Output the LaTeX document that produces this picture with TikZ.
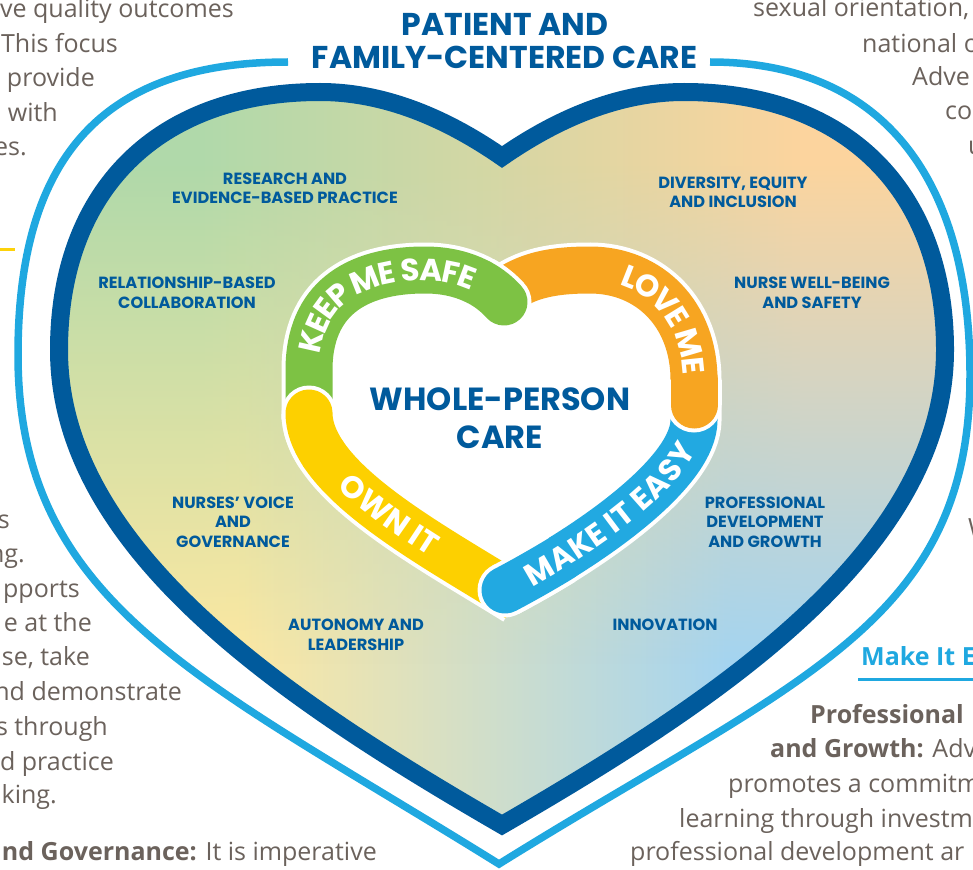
\documentclass[tikz,border=0pt]{standalone}
\usepackage{fontspec}
\setmainfont{Open Sans}
\newfontfamily\pop{Poppins}
\usetikzlibrary{fadings,decorations.text}
\definecolor{dkblue}{HTML}{005A9C}
\definecolor{ltblue}{HTML}{1FA8E0}
\definecolor{bgreen}{HTML}{7DC244}
\definecolor{borange}{HTML}{F7A521}
\definecolor{byellow}{HTML}{FDD000}
\definecolor{bblue}{HTML}{22A9E1}
\definecolor{greytxt}{HTML}{6B625C}
\definecolor{hgreen}{HTML}{B0D9AA}
\definecolor{hpeach}{HTML}{FCD49E}
\definecolor{hyellow}{HTML}{FDE8A2}
\definecolor{hblue}{HTML}{A4D4F1}
\definecolor{uline}{HTML}{FDD20A}
\pgfdeclarehorizontalshading{topshade}{100bp}{color(0bp)=(hgreen); color(33bp)=(hgreen); color(67bp)=(hpeach); color(100bp)=(hpeach)}
\pgfdeclarehorizontalshading{botshade}{100bp}{color(0bp)=(hyellow); color(35bp)=(hyellow); color(63bp)=(hblue); color(100bp)=(hblue)}
\begin{tikzfadingfrompicture}[name=fadedown]
  \fill[transparent!100] (0bp,0bp) rectangle (100bp,-30bp);
  \shade[top color=transparent!100, bottom color=transparent!0] (0bp,-30bp) rectangle (100bp,-64bp);
  \fill[transparent!0] (0bp,-64bp) rectangle (100bp,-100bp);
\end{tikzfadingfrompicture}
\begin{document}
\begin{tikzpicture}[x=1pt,y=1pt,
  body/.style={font=\fontsize{25}{34.5}\selectfont, text=greytxt, inner sep=0pt},
  lbl/.style={font=\pop\bfseries\fontsize{16.2}{19.5}\selectfont, text=dkblue, align=center, inner sep=0pt},
  ttl/.style={font=\pop\bfseries\fontsize{31.5}{33}\selectfont, text=dkblue, inner sep=0pt},
  ctr/.style={font=\pop\bfseries\fontsize{32}{38.5}\selectfont, text=dkblue, align=center, inner sep=0pt},
  bandw/.style={white, line width=55, line cap=butt},
  bandc/.style={line width=47, line cap=butt},
  endw/.style={white, line width=55, line cap=butt},
  endc/.style={line width=47, line cap=round},
  bandtext/.style={decorate, decoration={text along path, text align=center, text color=white, raise=-10.6pt, text={|\pop\bfseries\fontsize{31}{31}\selectfont|#1}}}
]
\useasboundingbox (0,0) rectangle (973,-869);
\clip (0,0) rectangle (973,-869);
\fill[white] (0,0) rectangle (973,-869);

% surrounding body text
\node[body, anchor=base east] (b1) at (234,-18) {ve quality outcomes};
\node[body, anchor=base east] (b2) at (118,-53) {This focus};
\node[body, anchor=base east] (b3) at (95,-87) {provide};
\node[body, anchor=base east] (b4) at (58,-122) {e with};
\node[body, anchor=base east] (b5) at (27,-156) {es.};
\draw[uline, line width=2.5] (0,-249.5) coordinate (u0) -- (15,-249.5) coordinate (u1);

\node[body, anchor=base east] (m1) at (10,-528) {s};
\node[body, anchor=base east] (m2) at (25,-562) {ng.};
\node[body, anchor=base east] (m3) at (80,-597) {pports};
\node[body, anchor=base east] (m4) at (92,-631) {e at the};
\node[body, anchor=base east] (m5) at (90,-665) {se, take};
\node[body, anchor=base east] (m6) at (182,-700) {nd demonstrate};
\node[body, anchor=base east] (m7) at (108,-735) {s through};
\node[body, anchor=base east] (m8) at (114,-770) {d practice};
\node[body, anchor=base east] (m9) at (57,-803) {king.};
\node[body, anchor=base east] (m10) at (377,-860) {\bfseries nd Governance:\mdseries{} It is imperative};

\node[body, anchor=base west] (r1) at (753,-17) {sexual orientation,};
\node[body, anchor=base west] (r2) at (862,-53) {national o};
\node[body, anchor=base west] (r3) at (912,-86) {Adve};
\node[body, anchor=base west] (r4) at (945,-120) {co};
\node[body, anchor=base west] (r5) at (968,-155) {u};
\node[body, anchor=base west] (r6) at (968,-536) {W};

\node[body, anchor=base west, text=ltblue, font=\bfseries\fontsize{25}{34.5}\selectfont] (mk) at (861,-665) {Make It E};
\draw[ltblue, line width=2.5] (858,-679.5) coordinate (v0) -- (973,-679.5) coordinate (v1);
\node[body, anchor=base west] (p1) at (810,-723) {\bfseries Professional};
\node[body, anchor=base west] (p2) at (770,-757) {\bfseries and Growth:\mdseries{} Adv};
\node[body, anchor=base west] (p3) at (728,-792) {promotes a commitm};
\node[body, anchor=base west] (p4) at (679,-827) {learning through investm};
\node[body, anchor=base west] (p5) at (630,-860) {professional development ar};

% light blue outer heart
\draw[ltblue, line width=7.5, line join=miter] (288,-62) .. controls (100,-62) and (18,-160) .. (18,-355) .. controls (18,-605) and (202,-679) .. (499,-864) .. controls (796,-679) and (970,-625) .. (970,-375) .. controls (970,-175) and (880,-62) .. (710,-62);

% dark heart with gradient
\shade[shading=topshade] (502,-157) .. controls (453,-123) and (390,-92) .. (320,-92) .. controls (158,-92) and (59,-190) .. (59,-350) .. controls (59,-550) and (286,-700) .. (502,-825) .. controls (718,-700) and (945,-550) .. (945,-350) .. controls (945,-190) and (846,-92) .. (684,-92) .. controls (614,-92) and (551,-123) .. (502,-157) -- cycle;
\shade[shading=botshade, path fading=fadedown] (502,-157) .. controls (453,-123) and (390,-92) .. (320,-92) .. controls (158,-92) and (59,-190) .. (59,-350) .. controls (59,-550) and (286,-700) .. (502,-825) .. controls (718,-700) and (945,-550) .. (945,-350) .. controls (945,-190) and (846,-92) .. (684,-92) .. controls (614,-92) and (551,-123) .. (502,-157) -- cycle;
\draw[dkblue, line width=18, line join=miter] (502,-157) .. controls (453,-123) and (390,-92) .. (320,-92) .. controls (158,-92) and (59,-190) .. (59,-350) .. controls (59,-550) and (286,-700) .. (502,-825) .. controls (718,-700) and (945,-550) .. (945,-350) .. controls (945,-190) and (846,-92) .. (684,-92) .. controls (614,-92) and (551,-123) .. (502,-157) -- cycle;

% labels
\node[lbl] (l1) at (285,-188.5) {RESEARCH AND\\EVIDENCE-BASED PRACTICE};
\node[lbl] (l2) at (187,-293) {RELATIONSHIP-BASED\\COLLABORATION};
\node[lbl] (l3) at (733,-192.5) {DIVERSITY, EQUITY\\AND INCLUSION};
\node[lbl] (l4) at (812,-293) {NURSE WELL-BEING\\AND SAFETY};
\node[lbl] (l5) at (233,-522) {NURSES’ VOICE\\AND\\GOVERNANCE};
\node[lbl] (l6) at (765,-522) {PROFESSIONAL\\DEVELOPMENT\\AND GROWTH};
\node[lbl] (l7) at (356,-635) {AUTONOMY AND\\LEADERSHIP};
\node[lbl] (l8) at (665,-625) {INNOVATION};

% inner heart white area
\fill[white] (309,-420) -- (309,-370) .. controls (309,-300) and (355,-270) .. (425,-270) .. controls (462,-270) and (488,-284) .. (502,-300) .. controls (520,-276) and (550,-270) .. (590,-270) .. controls (650,-270) and (694,-315) .. (694,-380) -- (694,-420) .. controls (694,-470) and (600,-540) .. (505,-590) -- (517.8,-598.2) .. controls (432.8,-545.2) and (309,-480) .. (309,-413) -- cycle;

% full bands
\draw[bandw] (309,-420) -- (309,-370) .. controls (309,-300) and (355,-270) .. (425,-270) .. controls (462,-270) and (488,-284) .. (504,-302);
\draw[bandc, bgreen] (309,-420) -- (309,-370) .. controls (309,-300) and (355,-270) .. (425,-270) .. controls (462,-270) and (488,-284) .. (504,-302);
\draw[bandw] (495,-300) .. controls (520,-276) and (550,-270) .. (590,-270) .. controls (650,-270) and (694,-315) .. (694,-380) -- (694,-405);
\draw[bandc, borange] (495,-300) .. controls (520,-276) and (550,-270) .. (590,-270) .. controls (650,-270) and (694,-315) .. (694,-380) -- (694,-405);
\draw[bandw] (694,-395) -- (694,-420) .. controls (694,-470) and (600,-540) .. (505,-590);
\draw[bandc, bblue] (694,-395) -- (694,-420) .. controls (694,-470) and (600,-540) .. (505,-590);
\draw[bandw] (517.8,-598.2) .. controls (432.8,-545.2) and (309,-480) .. (309,-413);
\draw[bandc, byellow] (517.8,-598.2) .. controls (432.8,-545.2) and (309,-480) .. (309,-413);

% band ends on top
\draw[endw] (479.9,-282.9) .. controls (489.6,-288.2) and (497.6,-294.8) .. (504,-302);
\fill[white] (504,-302) circle[radius=27.5];
\draw[endc, bgreen] (479.9,-282.9) .. controls (489.6,-288.2) and (497.6,-294.8) .. (504,-302);
\draw[endw] (694,-380) -- (694,-405);
\fill[white] (694,-405) circle[radius=27.5];
\draw[endc, borange] (694,-380) -- (694,-405);
\draw[endw] (561.2,-558.1) .. controls (543,-569.2) and (524,-580) .. (505,-590);
\fill[white] (505,-590) circle[radius=27.5];
\draw[endc, bblue] (561.2,-558.1) .. controls (543,-569.2) and (524,-580) .. (505,-590);
\draw[endw] (322.6,-452.9) .. controls (314.0,-439.7) and (309,-426.4) .. (309,-413);
\fill[white] (309,-413) circle[radius=27.5];
\draw[endc, byellow] (322.6,-452.9) .. controls (314.0,-439.7) and (309,-426.4) .. (309,-413);

% band texts
\path[bandtext={KEEP ME SAFE}] (309,-455) -- (309,-370) .. controls (309,-300) and (355,-270) .. (425,-270) .. controls (462,-270) and (488,-284) .. (504,-302) -- (548,-352);
\path[bandtext={LOVE ME}] (495,-300) .. controls (520,-276) and (550,-270) .. (590,-270) .. controls (650,-270) and (694,-315) .. (694,-380) -- (694,-510);
\path[bandtext={MAKE IT EASY}] (477.6,-604.4) -- (505,-590) .. controls (600,-540) and (694,-470) .. (694,-420) -- (694,-390);
\path[bandtext={OWN IT}] (309,-393) -- (309,-413) .. controls (309,-480) and (432.8,-545.2) .. (517.8,-598.2);

% centre and title
\node[ctr] (c) at (500,-418.25) {WHOLE-PERSON\\CARE};
\node[ttl] (t1) at (505,-24.5) {PATIENT AND};
\node[ttl] (t2) at (504.5,-57.5) {FAMILY-CENTERED CARE};
\end{tikzpicture}
\end{document}
